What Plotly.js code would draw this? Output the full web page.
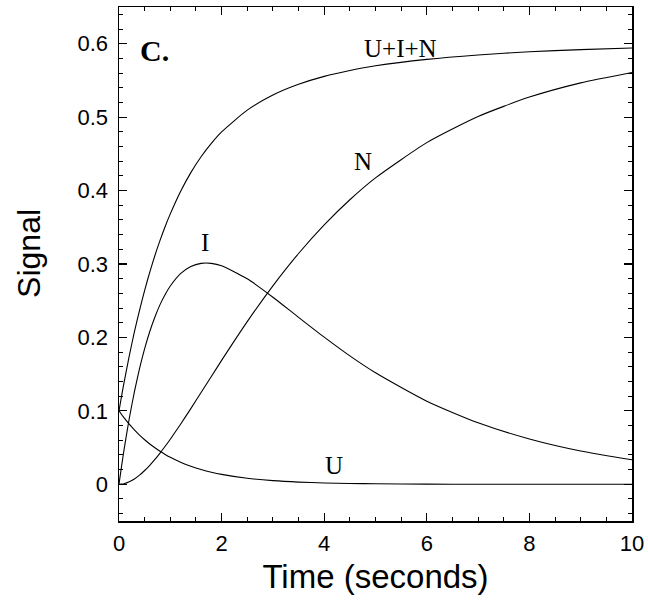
<!DOCTYPE html>
<html>
<head>
<meta charset="utf-8">
<script src="https://cdn.plot.ly/plotly-3.0.1.min.js"></script>
<style>html,body{margin:0;padding:0;background:#fff;}#chart{width:648px;height:601px;}</style>
</head>
<body>
<div id="chart"></div>
<script>
// Time points (seconds)
const time = [0, 0.05, 0.1, 0.2, 0.3, 0.4, 0.5, 0.6, 0.7, 0.8, 0.9, 1.0, 1.2, 1.4, 1.6, 1.8, 2.0, 2.5, 3.0, 3.5, 4.0, 4.5, 5.0, 6.0, 7.0, 8.0, 9.0, 10.0];
// Signal of each species
const signalU = [0.1, 0.0951, 0.0905, 0.0819, 0.0741, 0.0670, 0.0607, 0.0549, 0.0497, 0.0449, 0.0407, 0.0368, 0.0301, 0.0247, 0.0202, 0.0165, 0.0135, 0.0082, 0.0050, 0.0030, 0.0018, 0.0011, 0.0007, 0.0002, 0.0001, 0, 0, 0];
const signalI = [0, 0.0247, 0.0478, 0.0896, 0.1260, 0.1575, 0.1847, 0.2081, 0.2279, 0.2447, 0.2586, 0.2701, 0.2869, 0.2966, 0.3009, 0.3009, 0.2976, 0.2798, 0.2548, 0.2274, 0.2004, 0.1749, 0.1519, 0.1132, 0.0837, 0.0617, 0.0453, 0.0333];
const signalN = [0, 0.0002, 0.0008, 0.0034, 0.0073, 0.0125, 0.0188, 0.0259, 0.0340, 0.0425, 0.0518, 0.0614, 0.0818, 0.1031, 0.1249, 0.1468, 0.1687, 0.2215, 0.2703, 0.3143, 0.3533, 0.3875, 0.4173, 0.4653, 0.5009, 0.5273, 0.5467, 0.5609];
const signalTotal = [0.1, 0.1200, 0.1391, 0.1749, 0.2074, 0.2370, 0.2642, 0.2889, 0.3116, 0.3321, 0.3511, 0.3683, 0.3988, 0.4244, 0.4460, 0.4642, 0.4798, 0.5095, 0.5301, 0.5447, 0.5555, 0.5635, 0.5699, 0.5787, 0.5847, 0.5890, 0.5920, 0.5942];

// Curve labels
const labelText = ["U+I+N", "N", "I", "U"];
const labelX = [5.48, 4.76, 1.68, 4.19];
const labelY = [0.593, 0.44, 0.329, 0.026];

const lineStyle = {color: '#000', width: 1.1, shape: 'spline', smoothing: 0.6};
const traces = [signalU, signalI, signalN, signalTotal].map(function (ys) {
  return {x: time, y: ys, type: 'scatter', mode: 'lines', line: lineStyle, hoverinfo: 'skip'};
});

const serif = 'Liberation Serif, Times New Roman, serif';
const sans = 'Liberation Sans, Arial, sans-serif';

const annotations = labelText.map(function (t, i) {
  return {x: labelX[i], y: labelY[i], xref: 'x', yref: 'y', text: t, showarrow: false,
          font: {family: serif, size: 25, color: '#000'}};
});
annotations.push({x: 0.7, y: 0.591, xref: 'x', yref: 'y', text: '<b>C.</b>', showarrow: false,
  font: {family: serif, size: 30, color: '#000'}});
// y-axis title placed as in the reference (slightly above centre)
annotations.push({x: -0.176, y: 0.521, xref: 'paper', yref: 'paper', text: 'Signal', textangle: -90,
  showarrow: false, xanchor: 'center', yanchor: 'middle',
  font: {family: sans, size: 32, color: '#000'}});

const axisCommon = {
  showline: true, linecolor: '#000', linewidth: 1.5, mirror: 'ticks',
  ticks: 'inside', ticklen: 8, tickwidth: 1.2, tickcolor: '#000',
  showgrid: false, zeroline: false,
  tickfont: {family: sans, size: 22, color: '#000'}
};

const layout = {
  width: 648, height: 601,
  margin: {l: 119, r: 16, t: 7, b: 80},
  paper_bgcolor: '#fff', plot_bgcolor: '#fff',
  showlegend: false,
  xaxis: Object.assign({}, axisCommon, {
    range: [0, 10], tick0: 0, dtick: 2,
    ticklabelstandoff: 2,
    minor: {dtick: 0.5, ticks: 'inside', ticklen: 4, tickwidth: 1, tickcolor: '#000', showgrid: false},
    title: {text: 'Time (seconds)', standoff: 10, font: {family: sans, size: 33, color: '#000'}}
  }),
  yaxis: Object.assign({}, axisCommon, {
    range: [-0.05, 0.65], tick0: 0, dtick: 0.1,
    ticklabelstandoff: 5,
    minor: {dtick: 0.02, ticks: 'inside', ticklen: 4, tickwidth: 1, tickcolor: '#000', showgrid: false}
  }),
  annotations: annotations
};

Plotly.newPlot('chart', traces, layout, {staticPlot: true, displayModeBar: false});
</script>
</body>
</html>
